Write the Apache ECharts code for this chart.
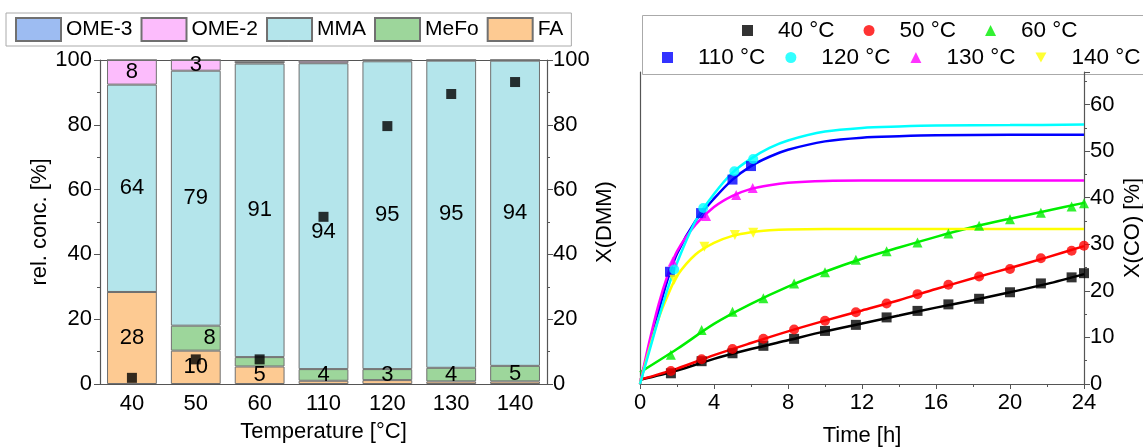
<!DOCTYPE html>
<html><head><meta charset="utf-8">
<script src="https://cdn.jsdelivr.net/npm/echarts@6/dist/echarts.min.js"></script>
<style>html,body{margin:0;padding:0;background:#fff}#c{width:1143px;height:447px}</style>
</head><body><div id="c"></div>
<script>
// ---------- Left chart data ----------
const categories = ['40', '50', '60', '110', '120', '130', '140'];
const FA   = [28.4, 10.3, 5.4, 1.0, 1.2, 0.8, 0.8];
const MeFo = [0, 7.7, 2.9, 3.6, 3.4, 4.2, 4.8];
const MMA  = [64, 78.7, 90.6, 94.4, 95, 94.8, 94.2];
const OME2 = [7.6, 3.3, 0.5, 0.8, 0.4, 0.2, 0.2];
const OME3 = [0, 0, 0, 0, 0, 0, 0];
const XDMM = [1.9, 7.6, 7.6, 51.6, 79.6, 89.5, 93.2];
const leftTicks = [0, 20, 40, 60, 80, 100];

// ---------- Right chart data ----------
const timeTicks = [0, 4, 8, 12, 16, 20, 24];
const tSlow = [1.67, 3.33, 5, 6.67, 8.33, 10, 11.67, 13.33, 15, 16.67, 18.33, 20, 21.67, 23.33, 24];
const x40 = [2.3, 4.9, 6.6, 8.2, 9.7, 11.4, 12.7, 14.3, 15.7, 17.1, 18.3, 19.7, 21.6, 22.9, 23.8];
const x50 = [2.8, 5.3, 7.5, 9.7, 11.7, 13.6, 15.4, 17.3, 19.3, 21.3, 23.1, 24.7, 27.0, 28.6, 29.7];
const x60 = [6.3, 11.6, 15.5, 18.4, 21.6, 24.0, 26.7, 28.5, 30.4, 32.3, 34.0, 35.4, 36.8, 38.1, 38.8];
const t110 = [1.62, 3.3, 5.0, 6.0];   const x110 = [24.1, 36.7, 43.9, 46.8];
const t120 = [1.85, 3.42, 5.1, 6.12]; const x120 = [24.6, 37.8, 45.7, 48.3];
const t130 = [1.77, 3.57, 5.2, 6.09]; const x130 = [26.3, 36.1, 40.6, 42.1];
const t140 = [1.85, 3.48, 5.13, 6.12]; const x140 = [22.4, 29.5, 32.0, 32.5];

// fitted curves
const fitSlowT = [0, 2, 4, 6, 8, 10, 12, 14, 16, 18, 20, 22, 24];
const fit40 = [0.9, 2.9, 5.4, 7.5, 9.4, 11.3, 13.0, 14.7, 16.4, 18.0, 19.7, 21.5, 23.6];
const fit50 = [0.9, 3.3, 6.2, 8.8, 11.3, 13.6, 15.8, 18.0, 20.4, 22.7, 24.9, 27.2, 29.6];
const fit60 = [2.5, 7.5, 12.9, 17.2, 20.9, 24.1, 26.9, 29.3, 31.6, 33.7, 35.5, 37.2, 38.9];
const fitFastT = [0, 0.5, 1, 1.5, 2, 3, 4, 5, 6, 7, 8, 10, 12, 14, 16, 20, 24];
const fit110 = [0, 8, 15.5, 22.5, 28, 35, 39.8, 43.9, 46.8, 48.8, 50.3, 52.1, 52.9, 53.2, 53.4, 53.5, 53.5];
const fit120 = [0, 7, 14, 20.5, 26, 35, 40.8, 45.4, 48.4, 50.7, 52.3, 54.2, 55.0, 55.3, 55.5, 55.6, 55.7];
const fit130 = [0, 9, 17, 23.5, 28.5, 34.2, 38, 40.4, 41.9, 42.7, 43.2, 43.6, 43.7, 43.7, 43.7, 43.7, 43.7];
const fit140 = [0, 7.5, 14, 19, 23.2, 27.8, 30.3, 31.8, 32.6, 33.0, 33.2, 33.3, 33.3, 33.3, 33.3, 33.3, 33.3];

const FONT = 'Liberation Sans, Arial, sans-serif';
const AX = '#555';
const zip = (a, b) => a.map((v, i) => [v, b[i]]);

function barSeries(name, data, color, opts) {
  opts = opts || {};
  return {
    name, type: 'bar', stack: 'conc', xAxisIndex: 0, yAxisIndex: 0,
    barCategoryGap: '22%',
    itemStyle: { color, borderColor: '#707070', borderWidth: 1 },
    data: data.map((v, i) => {
      const show = v >= 3;
      const item = { value: v, label: { show } };
      if (opts.pos && opts.pos[i]) item.label.position = opts.pos[i];
      if (opts.off && opts.off[i]) item.label.offset = opts.off[i];
      return item;
    }),
    label: { show: false, position: 'inside', color: '#000', fontFamily: FONT, fontSize: 22,
      formatter: p => Math.round(p.value) }
  };
}

const DOWN_TRI = 'path://M0,0L10,0L5,9Z';
const temps = [
  { name: '40 °C', color: '#000000', sym: 'rect', t: tSlow, x: x40, ft: fitSlowT, fv: fit40 },
  { name: '50 °C', color: '#ff0000', sym: 'circle', t: tSlow, x: x50, ft: fitSlowT, fv: fit50 },
  { name: '60 °C', color: '#00ee00', sym: 'triangle', t: tSlow, x: x60, ft: fitSlowT, fv: fit60 },
  { name: '110 °C', color: '#0000ff', sym: 'rect', t: t110, x: x110, ft: fitFastT, fv: fit110 },
  { name: '130 °C', color: '#ff00ff', sym: 'triangle', t: t130, x: x130, ft: fitFastT, fv: fit130 },
  { name: '140 °C', color: '#ffff00', sym: DOWN_TRI, t: t140, x: x140, ft: fitFastT, fv: fit140 },
  { name: '120 °C', color: '#00ffff', sym: 'circle', t: t120, x: x120, ft: fitFastT, fv: fit120 }
];

const rightSeries = [];
temps.forEach(s => {
  rightSeries.push({
    name: s.name + ' fit', type: 'line', xAxisIndex: 2, yAxisIndex: 3,
    data: zip(s.ft, s.fv), smooth: 0.3, symbol: 'none',
    lineStyle: { color: s.color, width: 2.5 }, z: 2
  });
  rightSeries.push({
    name: s.name, type: 'scatter', xAxisIndex: 2, yAxisIndex: 3,
    data: zip(s.t, s.x), symbol: s.sym, symbolSize: 10,
    itemStyle: { color: s.color }, z: 3
  });
});

const tickLabel = { color: '#000', fontFamily: FONT, fontSize: 22 };
const nameStyle = { color: '#000', fontFamily: FONT, fontSize: 22 };
const legendText = { color: '#000', fontFamily: FONT, fontSize: 22.5, padding: [0, 0, 0, 20] };

const option = {
  animation: false,
  backgroundColor: '#fff',
  textStyle: { fontFamily: FONT },
  grid: [
    { left: 100, right: 596, top: 60, bottom: 63, outerBoundsMode: 'none' },
    { left: 640, right: 59, top: 72, bottom: 63, outerBoundsMode: 'none' }
  ],
  legend: [
    {
      data: ['OME-3', 'OME-2', 'MMA', 'MeFo', 'FA'],
      left: 6, top: 13, padding: [4, 8, 4, 9], itemGap: 8,
      itemWidth: 45, itemHeight: 23, icon: 'rect',
      borderColor: '#aaa', borderWidth: 1,
      textStyle: { color: '#000', fontFamily: FONT, fontSize: 21 }
    },
    {
      data: ['40 °C', '50 °C', '60 °C'],
      left: 742, top: 19, padding: 0, itemGap: 29,
      itemWidth: 11, itemHeight: 11,
      textStyle: legendText
    },
    {
      data: ['110 °C', '120 °C', '130 °C', '140 °C'],
      left: 662, top: 46, padding: 0, itemGap: 20,
      itemWidth: 11, itemHeight: 11,
      textStyle: legendText
    }
  ],
  graphic: [
    { type: 'rect', left: 640, top: 13, shape: { width: 520, height: 59 },
      style: { fill: 'none', stroke: '#aaa', lineWidth: 1 }, z: 0 }
  ],
  xAxis: [
    {
      type: 'category', gridIndex: 0, data: categories, position: 'bottom',
      name: 'Temperature [°C]', nameLocation: 'middle', nameGap: 37, nameTextStyle: nameStyle,
      axisLine: { lineStyle: { color: AX, width: 1.2 } },
      axisTick: { show: false }, axisLabel: Object.assign({ margin: 9 }, tickLabel),
      splitLine: { show: false }
    },
    {
      type: 'category', gridIndex: 0, data: categories, position: 'top',
      axisLine: { show: true, onZero: false, lineStyle: { color: AX, width: 1.2 } },
      axisTick: { show: false }, axisLabel: { show: false }, splitLine: { show: false }
    },
    {
      type: 'value', gridIndex: 1, min: 0, max: 24, interval: 4,
      name: 'Time [h]', nameLocation: 'middle', nameGap: 41, nameTextStyle: nameStyle,
      axisLine: { onZero: false, lineStyle: { color: AX, width: 1.2 } },
      axisTick: { show: true, length: 5, lineStyle: { color: AX } },
      minorTick: { show: true, splitNumber: 2, length: 3, lineStyle: { color: AX } },
      axisLabel: Object.assign({ margin: 8, formatter: v => timeTicks.includes(v) ? String(v) : '' }, tickLabel),
      splitLine: { show: false }
    }
  ],
  yAxis: [
    {
      type: 'value', gridIndex: 0, min: 0, max: 100, interval: 20, position: 'left',
      name: 'rel. conc. [%]', nameLocation: 'middle', nameGap: 37, nameTextStyle: nameStyle,
      axisLine: { show: true, lineStyle: { color: AX, width: 1.2 } },
      axisTick: { show: true, length: 6, lineStyle: { color: AX } },
      minorTick: { show: true, splitNumber: 2, length: 3, lineStyle: { color: AX } },
      axisLabel: Object.assign({ margin: 8, formatter: v => leftTicks.includes(v) ? String(v) : '' }, tickLabel),
      splitLine: { show: false }
    },
    {
      type: 'value', gridIndex: 0, min: 0, max: 100, interval: 20, position: 'right',
      name: 'X(DMM)', nameLocation: 'middle', nameGap: 44, nameTextStyle: nameStyle,
      axisLine: { show: true, lineStyle: { color: AX, width: 1.2 } },
      axisTick: { show: true, length: 6, lineStyle: { color: AX } },
      minorTick: { show: true, splitNumber: 2, length: 3, lineStyle: { color: AX } },
      axisLabel: Object.assign({ margin: 6, formatter: v => leftTicks.includes(v) ? String(v) : '' }, tickLabel),
      splitLine: { show: false }
    },
    {
      type: 'value', gridIndex: 1, min: 0, max: 67, position: 'left',
      axisLine: { show: true, onZero: false, lineStyle: { color: AX, width: 1.2 } },
      axisTick: { show: false }, axisLabel: { show: false }, splitLine: { show: false }
    },
    {
      type: 'value', gridIndex: 1, min: 0, max: 67, interval: 10, position: 'right',
      name: 'X(CO) [%]', nameLocation: 'middle', nameGap: 38, nameTextStyle: nameStyle,
      axisLine: { show: true, onZero: false, lineStyle: { color: AX, width: 1.2 } },
      axisTick: { show: true, length: 6, lineStyle: { color: AX } },
      minorTick: { show: true, splitNumber: 2, length: 3, lineStyle: { color: AX } },
      axisLabel: Object.assign({ margin: 6, formatter: v => (v % 10 === 0 && v <= 60) ? String(v) : '' }, tickLabel),
      splitLine: { show: false }
    }
  ],
  series: [
    barSeries('FA', FA, '#fdca92'),
    barSeries('MeFo', MeFo, '#9dd69b', { pos: { 1: 'insideRight' } }),
    barSeries('MMA', MMA, '#b4e5eb', { off: { 3: [0, 16] } }),
    barSeries('OME-2', OME2, '#fcbcfc'),
    barSeries('OME-3', OME3, '#9dbcf2'),
    {
      name: 'X(DMM)', type: 'scatter', xAxisIndex: 0, yAxisIndex: 1,
      data: XDMM, symbol: 'rect', symbolSize: 10, itemStyle: { color: '#000' }, z: 5
    }
  ].concat(rightSeries)
};

const chart = echarts.init(document.getElementById('c'), null, { renderer: 'canvas' });
chart.setOption(option);
</script></body></html>
